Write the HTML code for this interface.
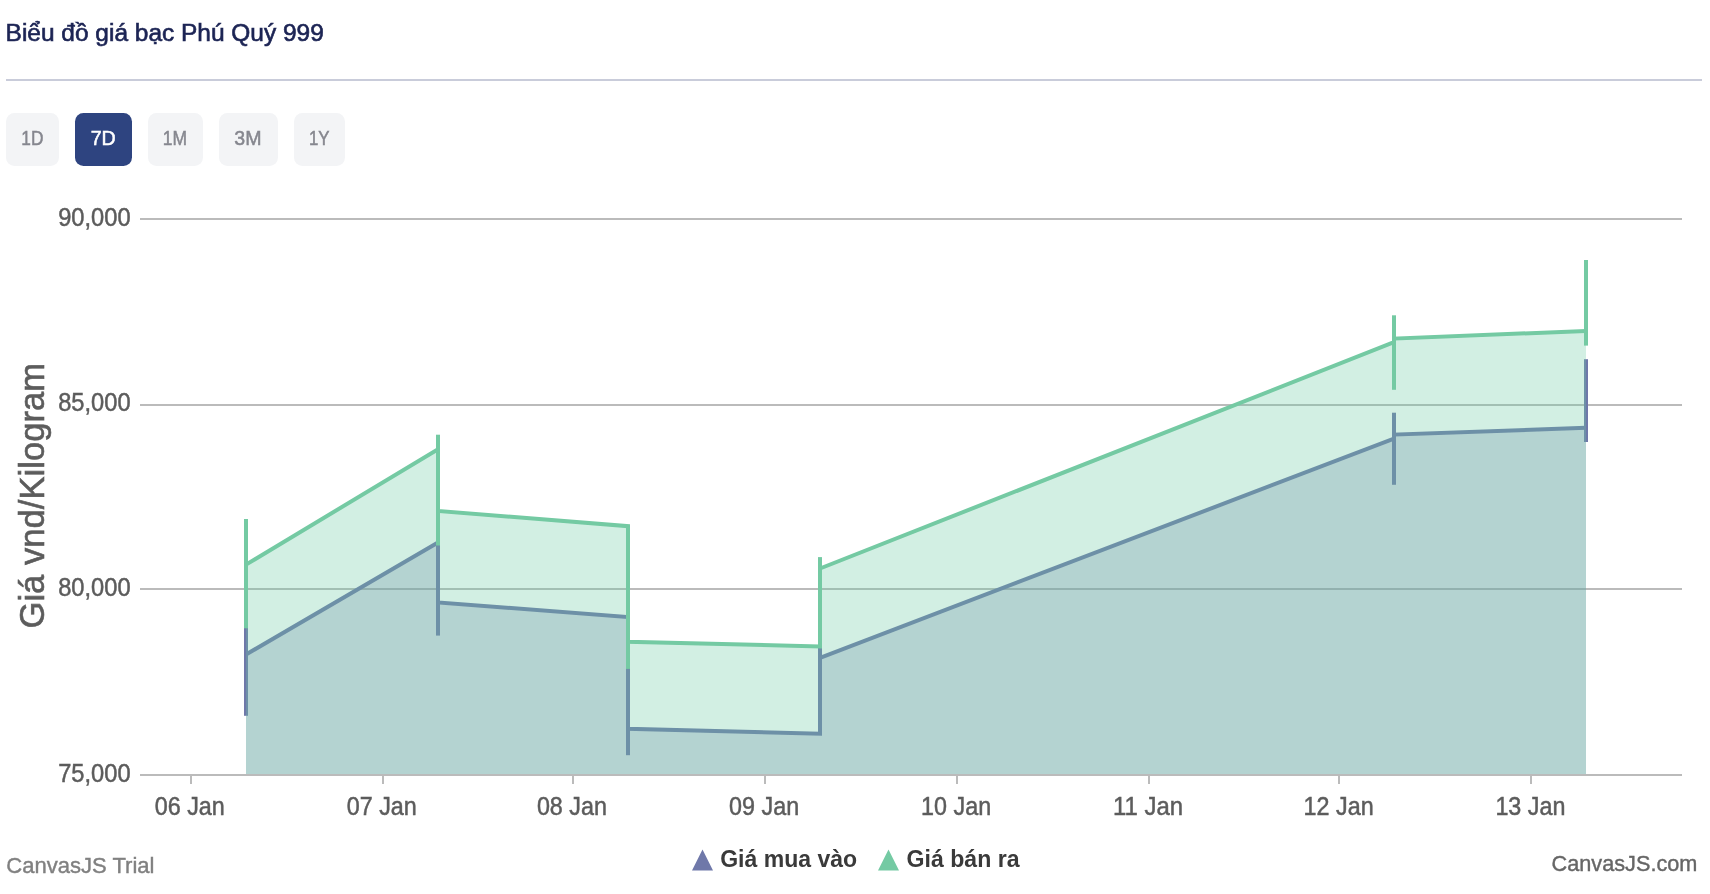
<!DOCTYPE html>
<html><head><meta charset="utf-8"><title>Biểu đồ giá bạc Phú Quý 999</title>
<style>
html,body{margin:0;padding:0;background:#fff;}
body{width:1710px;height:894px;position:relative;overflow:hidden;font-family:"Liberation Sans",sans-serif;}
svg text{font-family:"Liberation Sans",sans-serif;}
</style></head><body>
<svg width="1710" height="894" viewBox="0 0 1710 894" style="position:absolute;left:0;top:0;will-change:transform">
<rect x="140" y="218" width="1542" height="2" fill="#BBBBBB"/>
<rect x="140" y="404" width="1542" height="2" fill="#BBBBBB"/>
<rect x="140" y="588" width="1542" height="2" fill="#BBBBBB"/>
<polygon points="246,774 246,654.5 438,542.6 438,602.4 628,617.0 628,728.85 820,733.75 820,657.8 1394,438.6 1394,434.6 1586,427.8 1586,774" fill="rgba(111,120,169,0.3)"/>
<polyline points="246,654.5 438,542.6 438,602.4 628,617.0 628,728.85 820,733.75 820,657.8 1394,438.6 1394,434.6 1586,427.8" fill="none" stroke="#6F78A9" stroke-width="4" stroke-linejoin="miter"/>
<line x1="246" y1="600" x2="246" y2="715.8" stroke="#6F78A9" stroke-width="4"/>
<line x1="438" y1="520" x2="438" y2="635.6" stroke="#6F78A9" stroke-width="4"/>
<line x1="628" y1="617" x2="628" y2="755.2" stroke="#6F78A9" stroke-width="4"/>
<line x1="820" y1="640" x2="820" y2="733.75" stroke="#6F78A9" stroke-width="4"/>
<line x1="1394" y1="412.7" x2="1394" y2="484.8" stroke="#6F78A9" stroke-width="4"/>
<line x1="1586" y1="359.2" x2="1586" y2="442" stroke="#6F78A9" stroke-width="4"/>
<polygon points="246,774 246,564.6 438,449.3 438,511.0 628,526.2 628,641.85 820,646.4 820,568.5 1394,342.2 1394,338.6 1586,330.9 1586,774" fill="rgba(105,202,162,0.3)"/>
<polyline points="246,564.6 438,449.3 438,511.0 628,526.2 628,641.85 820,646.4 820,568.5 1394,342.2 1394,338.6 1586,330.9" fill="none" stroke="#74CAA3" stroke-width="4" stroke-linejoin="miter"/>
<line x1="246" y1="519" x2="246" y2="628.3" stroke="#74CAA3" stroke-width="4"/>
<line x1="438" y1="434.7" x2="438" y2="545.5" stroke="#74CAA3" stroke-width="4"/>
<line x1="628" y1="526.2" x2="628" y2="668.9" stroke="#74CAA3" stroke-width="4"/>
<line x1="820" y1="557.1" x2="820" y2="646.4" stroke="#74CAA3" stroke-width="4"/>
<line x1="1394" y1="315.3" x2="1394" y2="389.8" stroke="#74CAA3" stroke-width="4"/>
<line x1="1586" y1="260" x2="1586" y2="345.6" stroke="#74CAA3" stroke-width="4"/>
<rect x="140" y="774" width="1542" height="2" fill="#BBBBBB"/>
<rect x="190" y="774" width="2" height="10" fill="#BBBBBB"/>
<rect x="382" y="774" width="2" height="10" fill="#BBBBBB"/>
<rect x="572" y="774" width="2" height="10" fill="#BBBBBB"/>
<rect x="764" y="774" width="2" height="10" fill="#BBBBBB"/>
<rect x="956" y="774" width="2" height="10" fill="#BBBBBB"/>
<rect x="1148" y="774" width="2" height="10" fill="#BBBBBB"/>
<rect x="1338" y="774" width="2" height="10" fill="#BBBBBB"/>
<rect x="1530" y="774" width="2" height="10" fill="#BBBBBB"/>
<text x="130.6" y="225.8" text-anchor="end" font-size="25.3" fill="#5C5C5C" stroke="#5C5C5C" stroke-width="0.5" textLength="72.4" lengthAdjust="spacingAndGlyphs">90,000</text>
<text x="130.6" y="410.6" text-anchor="end" font-size="25.3" fill="#5C5C5C" stroke="#5C5C5C" stroke-width="0.5" textLength="72.4" lengthAdjust="spacingAndGlyphs">85,000</text>
<text x="130.6" y="595.5999999999999" text-anchor="end" font-size="25.3" fill="#5C5C5C" stroke="#5C5C5C" stroke-width="0.5" textLength="72.4" lengthAdjust="spacingAndGlyphs">80,000</text>
<text x="130.6" y="781.5999999999999" text-anchor="end" font-size="25.3" fill="#5C5C5C" stroke="#5C5C5C" stroke-width="0.5" textLength="72.4" lengthAdjust="spacingAndGlyphs">75,000</text>
<text x="189.8" y="815" text-anchor="middle" font-size="25" fill="#5C5C5C" stroke="#5C5C5C" stroke-width="0.5" textLength="70" lengthAdjust="spacingAndGlyphs">06 Jan</text>
<text x="381.8" y="815" text-anchor="middle" font-size="25" fill="#5C5C5C" stroke="#5C5C5C" stroke-width="0.5" textLength="70" lengthAdjust="spacingAndGlyphs">07 Jan</text>
<text x="571.9" y="815" text-anchor="middle" font-size="25" fill="#5C5C5C" stroke="#5C5C5C" stroke-width="0.5" textLength="70" lengthAdjust="spacingAndGlyphs">08 Jan</text>
<text x="764.1" y="815" text-anchor="middle" font-size="25" fill="#5C5C5C" stroke="#5C5C5C" stroke-width="0.5" textLength="70" lengthAdjust="spacingAndGlyphs">09 Jan</text>
<text x="956.1" y="815" text-anchor="middle" font-size="25" fill="#5C5C5C" stroke="#5C5C5C" stroke-width="0.5" textLength="70" lengthAdjust="spacingAndGlyphs">10 Jan</text>
<text x="1148.0" y="815" text-anchor="middle" font-size="25" fill="#5C5C5C" stroke="#5C5C5C" stroke-width="0.5" textLength="70" lengthAdjust="spacingAndGlyphs">11 Jan</text>
<text x="1338.6" y="815" text-anchor="middle" font-size="25" fill="#5C5C5C" stroke="#5C5C5C" stroke-width="0.5" textLength="70" lengthAdjust="spacingAndGlyphs">12 Jan</text>
<text x="1530.4" y="815" text-anchor="middle" font-size="25" fill="#5C5C5C" stroke="#5C5C5C" stroke-width="0.5" textLength="70" lengthAdjust="spacingAndGlyphs">13 Jan</text>
<text transform="translate(44,495.75) rotate(-90)" text-anchor="middle" font-size="35" fill="#5C5C5C" stroke="#5C5C5C" stroke-width="0.6" textLength="265.5" lengthAdjust="spacingAndGlyphs">Giá vnd/Kilogram</text>
<polygon points="692,870.5 702.5,849.5 713,870.5" fill="#6F78A9"/>
<text x="720.2" y="866.7" font-size="23" font-weight="bold" fill="#3A3A3A" textLength="137" lengthAdjust="spacingAndGlyphs">Giá mua vào</text>
<polygon points="878,870.5 888.5,849.5 899,870.5" fill="#74CAA3"/>
<text x="906.6" y="866.7" font-size="23" font-weight="bold" fill="#3A3A3A" textLength="113" lengthAdjust="spacingAndGlyphs">Giá bán ra</text>
<text x="6.3" y="872.6" font-size="22" fill="#808080" stroke="#808080" stroke-width="0.4" textLength="148.2" lengthAdjust="spacingAndGlyphs">CanvasJS Trial</text>
<text x="1551.6" y="870.8" font-size="22" fill="#666666" stroke="#666666" stroke-width="0.4" textLength="145.8" lengthAdjust="spacingAndGlyphs">CanvasJS.com</text>
<text x="5.6" y="40.5" font-size="23" fill="#1C2454" stroke="#1C2454" stroke-width="0.6" textLength="318.2" lengthAdjust="spacingAndGlyphs">Biểu đồ giá bạc Phú Quý 999</text>
<rect x="6" y="79" width="1696" height="2" fill="#C9CCDA"/>
<rect x="6" y="113" width="53" height="53" rx="8.5" fill="#F3F4F6"/>
<text x="21.3" y="145" font-size="19.6" fill="#86878F" stroke="#86878F" stroke-width="0.5" textLength="22.1" lengthAdjust="spacingAndGlyphs">1D</text>
<rect x="75" y="113" width="57" height="53" rx="8.5" fill="#2E4480"/>
<text x="90.7" y="145" font-size="19.6" fill="#FFFFFF" stroke="#FFFFFF" stroke-width="0.5" textLength="25.1" lengthAdjust="spacingAndGlyphs">7D</text>
<rect x="148" y="113" width="55" height="53" rx="8.5" fill="#F3F4F6"/>
<text x="162.7" y="145" font-size="19.6" fill="#86878F" stroke="#86878F" stroke-width="0.5" textLength="24.3" lengthAdjust="spacingAndGlyphs">1M</text>
<rect x="219" y="113" width="59" height="53" rx="8.5" fill="#F3F4F6"/>
<text x="234.3" y="145" font-size="19.6" fill="#86878F" stroke="#86878F" stroke-width="0.5" textLength="27.2" lengthAdjust="spacingAndGlyphs">3M</text>
<rect x="294" y="113" width="51" height="53" rx="8.5" fill="#F3F4F6"/>
<text x="309" y="145" font-size="19.6" fill="#86878F" stroke="#86878F" stroke-width="0.5" textLength="20.6" lengthAdjust="spacingAndGlyphs">1Y</text>
</svg>
</body></html>
